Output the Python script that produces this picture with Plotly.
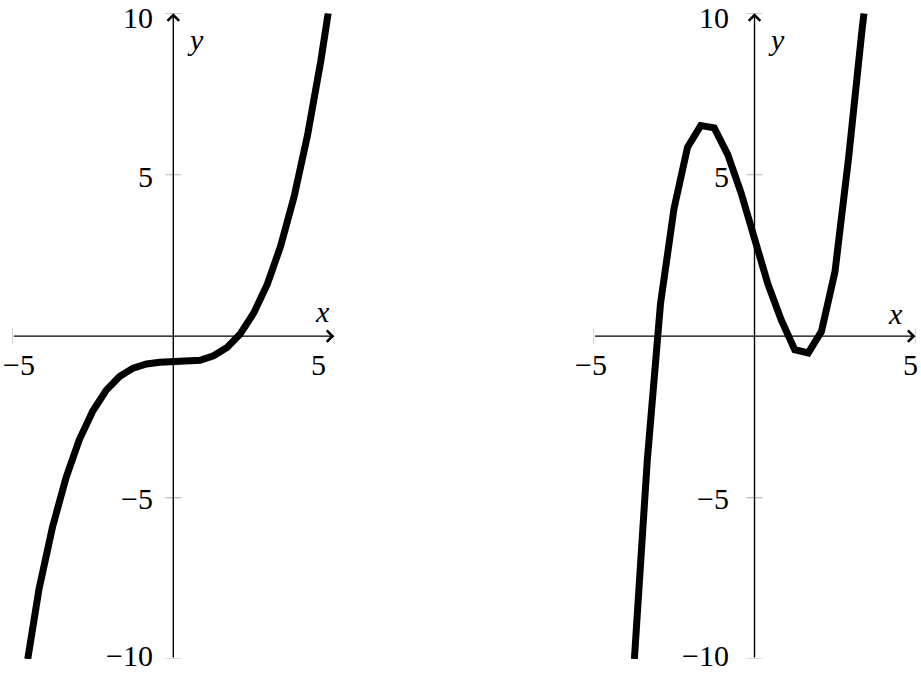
import plotly.graph_objects as go

# ---- data ----
left_x = [-4.52, -4.17, -3.75, -3.33, -2.92, -2.5, -2.08, -1.67, -1.25, -0.83, -0.42, 0.0,
          0.42, 0.83, 1.25, 1.67, 2.08, 2.5, 2.92, 3.33, 3.75, 4.17, 4.58, 4.81]
left_y = [-10.0, -7.83, -5.91, -4.38, -3.21, -2.32, -1.67, -1.25, -0.99, -0.86, -0.81, -0.80,
          -0.79, -0.75, -0.61, -0.35, 0.07, 0.72, 1.61, 2.78, 4.31, 6.23, 8.52, 10.0]

right_x = [-3.73, -3.33, -2.92, -2.5, -2.08, -1.67, -1.25, -0.83, -0.42, 0.0, 0.42, 0.83,
           1.25, 1.67, 2.08, 2.5, 2.92, 3.33, 3.40]
right_y = [-10.0, -3.85, 1.0, 3.95, 5.85, 6.52, 6.45, 5.62, 4.45, 3.05, 1.6, 0.5,
           -0.42, -0.52, 0.15, 2.0, 5.5, 9.4, 10.0]

x_ticks = [-5, 5]
y_ticks = [-10, -5, 5, 10]
x_tick_text = ["−5", "5"]
y_tick_text = ["−10", "−5", "5", "10"]

FONT = "Liberation Serif"
FS = 30

fig = go.Figure()
fig.add_trace(go.Scatter(x=left_x, y=left_y, mode="lines", xaxis="x", yaxis="y",
                         line=dict(color="black", width=7), hoverinfo="skip"))
fig.add_trace(go.Scatter(x=right_x, y=right_y, mode="lines", xaxis="x2", yaxis="y2",
                         line=dict(color="black", width=7), hoverinfo="skip"))

W, H = 921, 682
axis_common = dict(showgrid=False, zeroline=False, showline=False,
                   showticklabels=False, ticks="", fixedrange=True)
fig.update_layout(
    width=W, height=H, margin=dict(l=0, r=0, t=0, b=0),
    paper_bgcolor="white", plot_bgcolor="white", showlegend=False,
    xaxis=dict(domain=[12.3 / W, 334.3 / W], range=[-5, 5], anchor="y", **axis_common),
    yaxis=dict(domain=[(H - 659) / H, (H - 13.3) / H], range=[-10, 10], anchor="x", **axis_common),
    xaxis2=dict(domain=[593.5 / W, 915.5 / W], range=[-5, 5], anchor="y2", **axis_common),
    yaxis2=dict(domain=[(H - 659) / H, (H - 13.3) / H], range=[-10, 10], anchor="x2", **axis_common),
)

panels = [
    dict(xr="x", yr="y", xlab_shift=[7, -16], ylab_shift=-18,
         xlabel=(4.62, 0.75), ylabel=(0.70, 9.2)),
    dict(xr="x2", yr="y2", xlab_shift=[-3, -5], ylab_shift=-24,
         xlabel=(4.39, 0.69), ylabel=(0.67, 9.2)),
]
y_label_vshift = {-10: 4, -5: -1, 5: -2, 10: -4}

for p in panels:
    xr, yr = p["xr"], p["yr"]
    # grey ticks crossing the axes
    for t in x_ticks:
        fig.add_shape(type="line", xref=xr, yref=yr, x0=t, x1=t,
                      ysizemode="pixel", yanchor=0, y0=-8, y1=8,
                      line=dict(color="#b8b8b8", width=1.2), layer="below")
    for t in y_ticks:
        fig.add_shape(type="line", xref=xr, yref=yr, y0=t, y1=t,
                      xsizemode="pixel", xanchor=0, x0=-8, x1=8,
                      line=dict(color="#b8b8b8", width=1.2), layer="below")
    # axis lines with arrowheads
    fig.add_annotation(xref=xr, yref=yr, axref=xr, ayref=yr, x=5, y=0, ax=-5, ay=0,
                       text="", showarrow=True, arrowhead=4, arrowsize=1.6,
                       arrowwidth=1.4, arrowcolor="black", standoff=0)
    fig.add_annotation(xref=xr, yref=yr, axref=xr, ayref=yr, x=0, y=10, ax=0, ay=-10,
                       text="", showarrow=True, arrowhead=4, arrowsize=1.6,
                       arrowwidth=1.4, arrowcolor="black", standoff=0)
    # x tick labels
    for t, txt, sh in zip(x_ticks, x_tick_text, p["xlab_shift"]):
        fig.add_annotation(xref=xr, yref=yr, x=t, y=0, text=txt, showarrow=False,
                           xanchor="center", yanchor="middle", xshift=sh, yshift=-28,
                           font=dict(family=FONT, size=FS, color="black"))
    # y tick labels
    for t, txt in zip(y_ticks, y_tick_text):
        fig.add_annotation(xref=xr, yref=yr, x=0, y=t, text=txt, showarrow=False,
                           xanchor="right", yanchor="middle", xshift=p["ylab_shift"],
                           yshift=y_label_vshift[t],
                           font=dict(family=FONT, size=FS, color="black"))
    # axis labels
    fig.add_annotation(xref=xr, yref=yr, x=p["xlabel"][0], y=p["xlabel"][1], text="<i>x</i>",
                       showarrow=False, xanchor="center", yanchor="middle",
                       font=dict(family=FONT, size=FS, color="black"))
    fig.add_annotation(xref=xr, yref=yr, x=p["ylabel"][0], y=p["ylabel"][1], text="<i>y</i>",
                       showarrow=False, xanchor="center", yanchor="middle",
                       font=dict(family=FONT, size=FS, color="black"))

fig.write_html("out.html", config={"displayModeBar": False},
               post_script="document.body.style.margin='0';document.body.style.overflow='hidden';")
